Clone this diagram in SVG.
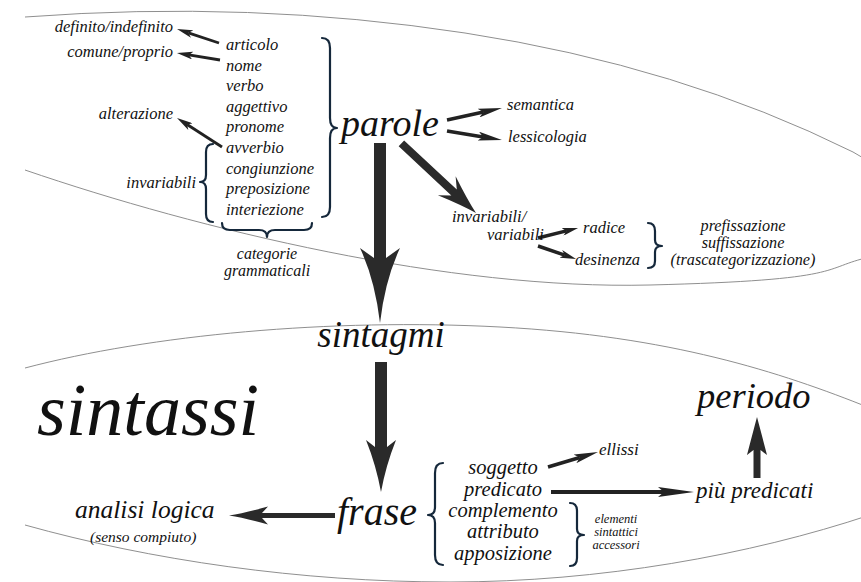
<svg xmlns="http://www.w3.org/2000/svg" width="861" height="582" viewBox="0 0 861 582" font-family="Liberation Serif, Times New Roman, serif">
<style>
text{font-style:italic;fill:#111}
.s{font-size:16.5px}
.r{font-size:16.2px}
.m{text-anchor:middle}
.e{text-anchor:end}
.ell{fill:none;stroke:#8f8f8f;stroke-width:1}
.br{fill:none;stroke:#15283b;stroke-width:2.2;stroke-linecap:round;stroke-linejoin:round}
.ln{fill:none;stroke:#222;stroke-linecap:butt}
.big{fill:#2a2a2a}
</style>
<defs>
<marker id="mS" viewBox="0 0 16 8" refX="4" refY="4" markerWidth="16" markerHeight="8" markerUnits="userSpaceOnUse" orient="auto"><path d="M0,0 L16,4 L0,8 L4,4 Z" fill="#222"/></marker>
<marker id="mM" viewBox="0 0 24 9" refX="5" refY="4.5" markerWidth="24" markerHeight="9" markerUnits="userSpaceOnUse" orient="auto"><path d="M0,0 L24,4.5 L0,9 L5,4.5 Z" fill="#222"/></marker>
<marker id="mL" viewBox="0 0 36 10" refX="6" refY="5" markerWidth="36" markerHeight="10" markerUnits="userSpaceOnUse" orient="auto"><path d="M0,0 L36,5 L0,10 L6,5 Z" fill="#222"/></marker>
</defs>
<rect width="861" height="582" fill="#fff"/>
<g id="regions">
<path class="ell" d="M25,17 Q250,0 465,33 T853,152 L870,162"/>
<path class="ell" d="M25,170 C200,230 450,290 650,285 S820,268 870,257"/>
<path class="ell" d="M25,368 C150,335 330,318 500,327 S780,372 870,408"/>
<path class="ell" d="M25,525 C150,560 300,582 450,582 S750,555 870,515"/>
</g>
<g id="connectors">
<line class="ln" x1="219" y1="43" x2="188.4" y2="32.8" stroke-width="2.8" marker-end="url(#mS)"/>
<line class="ln" x1="220" y1="60" x2="188.8" y2="54.9" stroke-width="2.8" marker-end="url(#mS)"/>
<line class="ln" x1="222" y1="147" x2="187.1" y2="124.5" stroke-width="2.8" marker-end="url(#mS)"/>
<line class="ln" x1="447" y1="120" x2="483.4" y2="112" stroke-width="3.5" marker-end="url(#mM)"/>
<line class="ln" x1="447" y1="131" x2="483.2" y2="136.9" stroke-width="3.5" marker-end="url(#mM)"/>
<line class="ln" x1="538" y1="238" x2="566.4" y2="230.9" stroke-width="3.5" marker-end="url(#mS)"/>
<line class="ln" x1="538" y1="246" x2="564.7" y2="255.1" stroke-width="3.5" marker-end="url(#mS)"/>
<line class="ln" x1="548" y1="467" x2="579.8" y2="457.5" stroke-width="3.5" marker-end="url(#mM)"/>
<line class="ln" x1="551" y1="492" x2="664" y2="492" stroke-width="4" marker-end="url(#mL)"/>
<path class="big" d="M374,143 L386,143 L386,258 L400,248 Q385,280 380,323 Q375,280 360,248 L374,258 Z"/>
<path class="big" d="M375,362 L387,362 L387,447 L396,440 Q386,465 381,492 Q376,465 366,440 L375,447 Z"/>
<path class="big" transform="translate(476,213) rotate(43)" d="M-102,-4 L-30,-4 L-40,-13 Q-16,-4 0,0 Q-16,4 -40,13 L-30,4 L-102,4 Z"/>
<path class="big" d="M335,513 L262,513 L268,506.5 Q245,513 229,515.5 Q245,518 268,524.5 L262,518 L335,518 Z"/>
<path class="big" d="M753.5,478 L760.5,478 L760.5,450 L767,455 Q761,432 757,417 Q753,432 747,455 L753.5,450 Z"/>
</g>
<g id="categorie">
<text class="s" x="226" y="50">articolo</text>
<text class="s" x="226" y="70.6">nome</text>
<text class="s" x="226" y="91.2">verbo</text>
<text class="s" x="226" y="111.8">aggettivo</text>
<text class="s" x="226" y="132.4">pronome</text>
<text class="s" x="226" y="153">avverbio</text>
<text class="s" x="226" y="173.6">congiunzione</text>
<text class="s" x="226" y="194.2">preposizione</text>
<text class="s" x="226" y="214.8">interiezione</text>
<path class="br" d="M322,38 Q330,38 330,48 L330,118 Q330,128 337,128 Q330,128 330,138 L330,207 Q330,217 322,217" stroke-width="2.6"/>
<path class="br" d="M213,144 Q206,144 206,152 L206,175 Q206,182 200,182 Q206,182 206,189 L206,214 Q206,222 213,222"/>
<path class="br" d="M222,223 Q222,230 230,230 L259,230 Q267,230 267,237 Q267,230 275,230 L304,230 Q312,230 312,223"/>
<text class="m" x="267" y="259" style="font-size:16px">categorie</text>
<text class="m" x="267" y="276" style="font-size:16px">grammaticali</text>
</g>
<g id="definito"><text class="s e" x="173" y="32">definito/indefinito</text></g>
<g id="comune"><text class="s e" x="173" y="57">comune/proprio</text></g>
<g id="alterazione"><text class="s e" x="173" y="119">alterazione</text></g>
<g id="invariabili"><text class="s e" x="196" y="188">invariabili</text></g>
<g id="parole"><text x="341" y="136" style="font-size:38px">parole</text></g>
<g id="semantica"><text class="s" x="507" y="110">semantica</text></g>
<g id="lessicologia"><text class="s" x="508" y="142">lessicologia</text></g>
<g id="invvar">
<text class="s" x="452" y="222">invariabili/</text>
<text class="s" x="487" y="240">variabili</text>
</g>
<g id="radice"><text class="s" x="583" y="233">radice</text></g>
<g id="desinenza"><text class="s" x="575" y="265">desinenza</text></g>
<g id="fissazione">
<path class="br" d="M648,223 Q655,223 655,231 L655,240 Q655,246 662,246 Q655,246 655,252 L655,261 Q655,268 648,268"/>
<text class="r m" x="743" y="231">prefissazione</text>
<text class="r m" x="743" y="248">suffissazione</text>
<text class="r m" x="743" y="265">(trascategorizzazione)</text>
</g>
<g id="sintagmi"><text class="m" x="381" y="347" style="font-size:37px">sintagmi</text></g>
<g id="sintassi"><text x="37" y="435" style="font-size:74px">sintassi</text></g>
<g id="frase"><text x="337" y="525" style="font-size:40px">frase</text></g>
<g id="elementi">
<path class="br" d="M443,463 Q435,463 435,473 L435,507 Q435,515 428,515 Q435,515 435,523 L435,555 Q435,565 443,565"/>
<text class="m" x="503" y="474" style="font-size:20.5px">soggetto</text>
<text class="m" x="503" y="496" style="font-size:20.5px">predicato</text>
<text class="m" x="503" y="517" style="font-size:20.5px">complemento</text>
<text class="m" x="503" y="538" style="font-size:20.5px">attributo</text>
<text class="m" x="503" y="560" style="font-size:20.5px">apposizione</text>
<path class="br" d="M570,503 Q577,503 577,511 L577,529 Q577,535 584,535 Q577,535 577,541 L577,558 Q577,566 570,566" stroke-width="1.8"/>
<text class="m" x="616" y="523" style="font-size:12.5px">elementi</text>
<text class="m" x="616" y="536" style="font-size:12.5px">sintattici</text>
<text class="m" x="616" y="549" style="font-size:12.5px">accessori</text>
</g>
<g id="ellissi"><text x="599" y="455" style="font-size:17px">ellissi</text></g>
<g id="piu"><text x="696" y="498" style="font-size:23px">più predicati</text></g>
<g id="periodo"><text x="697" y="408" style="font-size:36.5px">periodo</text></g>
<g id="analisi">
<text x="75" y="518" style="font-size:25.5px">analisi logica</text>
<text x="90" y="542" style="font-size:15.5px">(senso compiuto)</text>
</g>
</svg>
